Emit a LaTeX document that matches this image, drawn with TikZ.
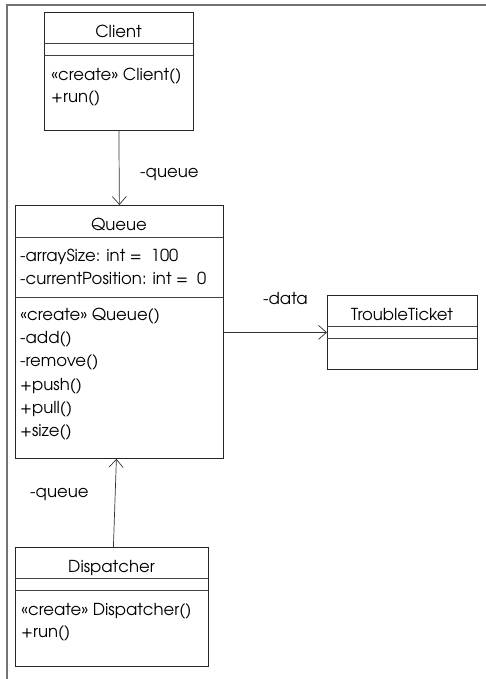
\documentclass[tikz,border=0pt]{standalone}
\usepackage{fontspec}
\setmainfont{texgyreadventor-regular.otf}
\usetikzlibrary{arrows.meta}
\begin{document}
\begin{tikzpicture}[x=1pt,y=-1pt,
  font=\fontsize{16.5}{18}\selectfont,
  umlbox/.style={draw=black!85, line width=0.8pt, anchor=north west, inner sep=0pt},
  divider/.style={draw=black!75, line width=0.8pt},
  lbl/.style={anchor=base west, inner sep=0pt},
  ttl/.style={anchor=base, inner sep=0pt},
  assoc/.style={draw=black!80, line width=0.7pt, -{Straight Barb[length=8pt,width=14pt,line width=0.7pt]}}]
\useasboundingbox (0,0) rectangle (486,679);
\draw[black!55, line width=1.3pt] (486,5) -- (7,5) -- (7,679);

% Client
\node[umlbox, minimum width=149pt, minimum height=118pt] (client) at (44,12) {};
\draw[divider] (44,43) -- (193,43);
\draw[divider] (44,55) -- (193,55);
\node[ttl] (clientT) at (118.5,37.5) {Client};
\node[lbl] (clientM1) at (51,80.5) {«create» Client()};
\node[lbl] (clientM2) at (51,103) {+run()};

% Queue
\node[umlbox, minimum width=208pt, minimum height=253pt] (queue) at (15,205) {};
\draw[divider] (15,237) -- (223,237);
\draw[divider] (15,297) -- (223,297);
\node[ttl] (queueT) at (119,230.5) {Queue};
\node[lbl] (queueA1) at (20,261) {-arraySize: int =\ \ 100};
\node[lbl] (queueA2) at (20,284.3) {-currentPosition: int =\ \ 0};
\node[lbl] (queueM1) at (20,320) {«create» Queue()};
\node[lbl] (queueM2) at (20,343.5) {-add()};
\node[lbl] (queueM3) at (20,366.8) {-remove()};
\node[lbl] (queueM4) at (20,390) {+push()};
\node[lbl] (queueM5) at (20,413.3) {+pull()};
\node[lbl] (queueM6) at (20,436.5) {+size()};

% TroubleTicket
\node[umlbox, minimum width=150pt, minimum height=74pt] (tt) at (327,295) {};
\draw[divider] (327,326) -- (477,326);
\draw[divider] (327,338) -- (477,338);
\node[ttl] (ttT) at (402,320) {TroubleTicket};

% Dispatcher
\node[umlbox, minimum width=193pt, minimum height=119pt] (disp) at (15,547) {};
\draw[divider] (15,578) -- (208,578);
\draw[divider] (15,590) -- (208,590);
\node[ttl] (dispT) at (111.5,572.7) {Dispatcher};
\node[lbl] (dispM1) at (21,615) {«create» Dispatcher()};
\node[lbl] (dispM2) at (21,637.5) {+run()};

% Associations
\draw[assoc] (client.south) -- (queue.north);
\node[lbl] (lq1) at (140,177) {-queue};
\draw[assoc] (queue.east |- tt.west) -- (tt.west);
\node[lbl] (ld) at (263,304) {-data};
\draw[assoc] ([xshift=1.5pt]disp.north) -- ([xshift=-3pt]queue.south);
\node[lbl] (lq2) at (30,497.5) {-queue};
\end{tikzpicture}
\end{document}
